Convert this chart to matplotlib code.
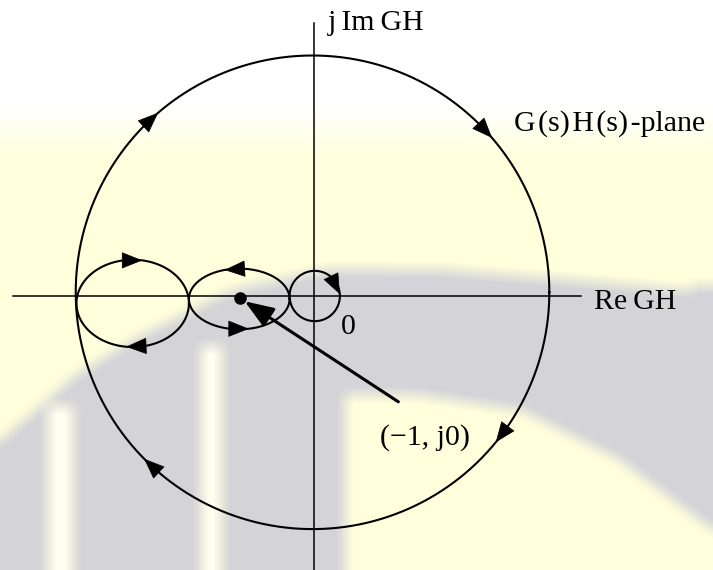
import numpy as np
import matplotlib
matplotlib.use("Agg")
import matplotlib.pyplot as plt

# Nyquist sketch, units chosen so the critical point (-1, j0) sits at x = -1
big_center = (-0.02, 0.05)
big_radii = (3.2, 3.2)
big_turn = -1                      # -1 clockwise, +1 counter-clockwise
big_arrows = [133, 43, -37, -133]  # arrowhead positions along the contour (deg)

loop_centers = [(-2.45, -0.10), (-1.01, -0.04), (0.01, 0.0)]
loop_radii = [(0.76, 0.59), (0.68, 0.41), (0.34, 0.34)]
loop_turns = [-1, 1, -1]
loop_arrows = [[90, -87], [96, -90], [26]]

critical_point = (-1.0, -0.03)
pointer_tail = (1.14, -1.43)

x_axis = (-4.07, 3.61)
y_axis = (-3.72, 3.69)

labels = ["j\u2009Im\u2009GH", "G\u200a(s)\u200aH\u200a(s)\u200a-plane",
          "Re\u2009GH", "0", "(\u22121, j0)"]
label_pos = [(0.19, 3.59), (2.70, 2.23), (3.78, -0.18), (0.47, -0.51), (0.89, -2.01)]
label_ha = ["left", "left", "left", "center", "left"]

W, H = 713, 570
PX = 74.0                 # pixels per unit
ORIGIN = (314, 296)       # pixel position of the origin


def box_blur(a, r):
  k = np.ones(2 * r + 1) / (2 * r + 1)
  f = lambda v: np.convolve(np.pad(v, r, mode="edge"), k, mode="valid")
  a = np.apply_along_axis(f, 0, a)
  return np.apply_along_axis(f, 1, a)


def watermark():
  """Faint yellow / grey logo behind the diagram."""
  yy, xx = np.mgrid[0:H, 0:W]
  yellow = np.clip((yy - 105) / 55.0, 0, 1)
  top = np.interp(xx, [0, 75, 140, 230, 330, 450, 600, 713],
                  [440, 375, 335, 290, 268, 270, 282, 292])
  low = np.where(xx < 345, H + 20,
                 np.interp(xx, [345, 420, 520, 620, 713], [395, 395, 410, 460, 530]))
  grey = ((yy > top) & (yy < low)).astype(float)
  grey[(xx > 690) & (yy > 285) & (yy < 370)] = 1.0
  strip = ((xx > 200) & (xx < 222) & (yy > 345)) | ((xx > 47) & (xx < 73) & (yy > 405))
  grey[strip] = 0.0
  grey = box_blur(grey, 8)
  yellow = box_blur(yellow - 0.6 * strip, 5)
  white = np.array([1.0, 1.0, 1.0])
  ycol = np.array([1.0, 1.0, 0.86])
  gcol = np.array([0.83, 0.83, 0.85])
  yellow = np.clip(yellow, 0, 1)[..., None]
  grey = grey[..., None]
  img = white * (1 - yellow) + ycol * yellow
  return img * (1 - grey) + gcol * grey


def ellipse_point(c, r, t):
  return c[0] + r[0] * np.cos(t), c[1] + r[1] * np.sin(t)


def draw_contour(ax, c, r, turn, arrows, head=0.26):
  t = np.linspace(0, 2 * np.pi, 400)
  ax.plot(*ellipse_point(c, r, t), color="black", lw=1.5, zorder=3)
  for a in arrows:
    th = np.radians(a)
    speed = np.hypot(r[0] * np.sin(th), r[1] * np.cos(th))
    d = 0.5 * head / speed
    tip = ellipse_point(c, r, th + turn * d)
    base = ellipse_point(c, r, th - turn * d)
    ax.annotate("", xy=tip, xytext=base, zorder=4,
                arrowprops=dict(arrowstyle="-|>,head_length=0.55,head_width=0.22",
                                mutation_scale=25, color="black", lw=0.5,
                                shrinkA=0, shrinkB=0))


fig = plt.figure(figsize=(W / 100, H / 100), dpi=100)

bg = fig.add_axes([0, 0, 1, 1])
bg.imshow(watermark(), extent=[0, W, H, 0], interpolation="bilinear")
bg.axis("off")

ax = fig.add_axes([0, 0, 1, 1], zorder=2)
ax.patch.set_alpha(0)
ax.set_xlim(-ORIGIN[0] / PX, (W - ORIGIN[0]) / PX)
ax.set_ylim((ORIGIN[1] - H) / PX, ORIGIN[1] / PX)
ax.axis("off")

# Axes of the GH-plane
ax.plot(x_axis, [0, 0], color="black", lw=1.1, zorder=2)
ax.plot([0, 0], y_axis, color="black", lw=1.1, zorder=2)

# Nyquist contour and its loops
draw_contour(ax, big_center, big_radii, big_turn, big_arrows)
for c, r, turn, arr in zip(loop_centers, loop_radii, loop_turns, loop_arrows):
  draw_contour(ax, c, r, turn, arr)

# Critical point and pointer
ax.plot(*critical_point, "o", color="black", ms=8, zorder=5)
ax.annotate("", xy=critical_point, xytext=pointer_tail, zorder=5,
            arrowprops=dict(arrowstyle="-|>,head_length=0.8,head_width=0.3",
                            mutation_scale=22, color="black", lw=2.2,
                            shrinkA=0, shrinkB=4))

for text, (x, y), ha in zip(labels, label_pos, label_ha):
  ax.text(x, y, text, ha=ha, va="baseline", fontsize=21.5,
          family=["Liberation Serif", "DejaVu Serif"], zorder=6)

fig.savefig("out.png", dpi=100)
